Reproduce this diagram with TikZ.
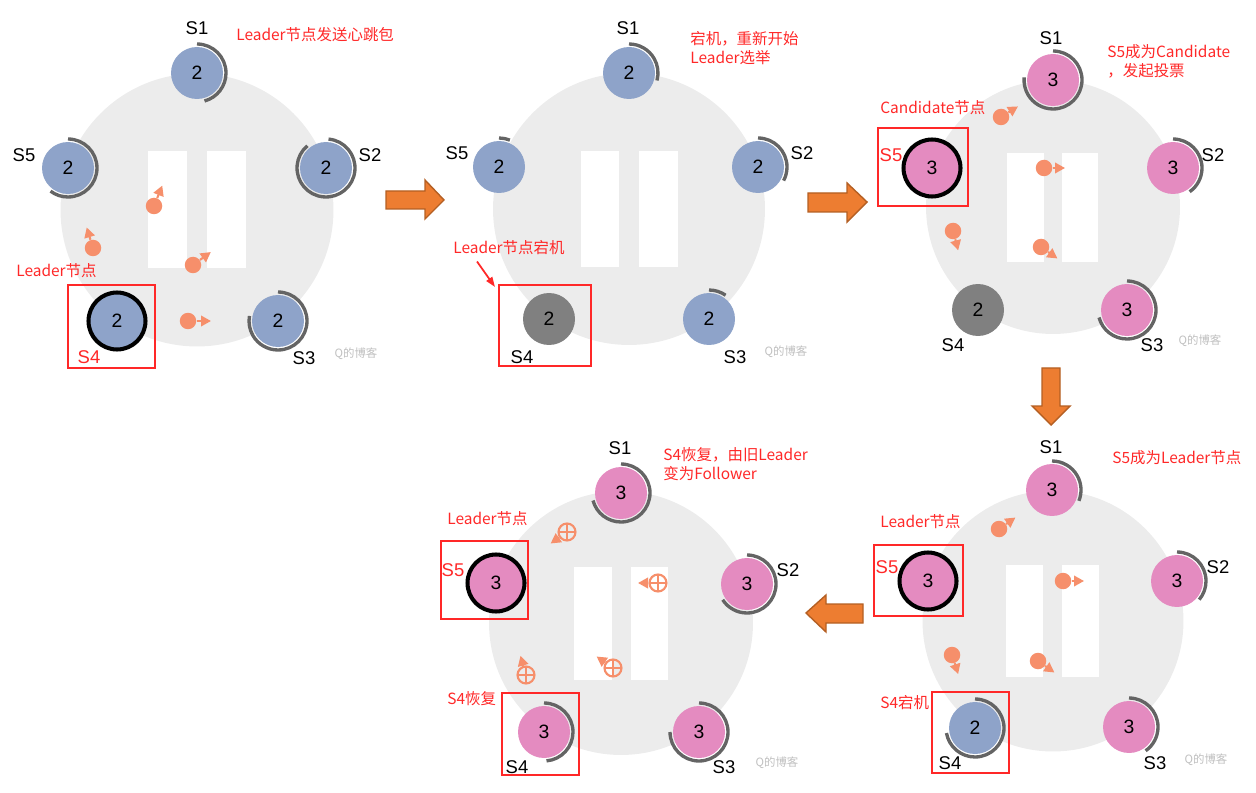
\documentclass[tikz,border=0pt]{standalone}
\usepackage{fontspec}
\setmainfont{Liberation Sans}
\newfontfamily\cjk{Noto Sans CJK SC}
\usetikzlibrary{arrows.meta}

\definecolor{srvblue}{RGB}{142,163,201}
\definecolor{srvpink}{RGB}{228,139,192}
\definecolor{srvdown}{RGB}{128,128,128}
\definecolor{ringgray}{RGB}{100,100,100}
\definecolor{bggray}{RGB}{236,236,236}
\definecolor{msgorange}{RGB}{246,143,107}
\definecolor{bigorange}{RGB}{237,125,49}
\definecolor{bigedge}{RGB}{180,95,35}
\definecolor{notered}{RGB}{255,40,40}

% gray term arc around a server: node, start angle, end angle
\newcommand{\termarc}[3]{%
  \draw[termring] ([shift={(#2:0.58cm)}]#1.center) arc[start angle=#2, end angle=#3, radius=0.58cm];}

\begin{document}
\begin{tikzpicture}[x=0.02cm, y=-0.02cm]
  % styles
  \tikzstyle{server}=[circle, minimum size=1.04cm, inner sep=0pt, font=\fontsize{11pt}{13pt}\selectfont]
  \tikzstyle{leader}=[draw=black, line width=2.3pt, minimum size=1.14cm]
  \tikzstyle{termring}=[draw=ringgray, line width=1.9pt]
  \tikzstyle{slabel}=[inner sep=0pt, font=\fontsize{10.5pt}{12pt}\selectfont]
  \tikzstyle{note}=[inner sep=0pt, anchor=west, align=left, text=notered, font=\cjk\fontsize{8.8pt}{10.8pt}\selectfont]
  \tikzstyle{redbox}=[draw=notered, line width=1pt]
  \tikzstyle{vote}=[circle, fill=msgorange, minimum size=0.33cm, inner sep=0pt]
  \tikzstyle{reply}=[circle, draw=msgorange, line width=1.2pt, minimum size=0.34cm, inner sep=0pt,
    path picture={\draw[msgorange, line width=1.2pt]
      (path picture bounding box.north) -- (path picture bounding box.south)
      (path picture bounding box.west) -- (path picture bounding box.east);}]
  \tikzstyle{msgarrow}=[draw=msgorange, line width=1.2pt, -{Triangle[length=0.2cm,width=0.21cm]}]
  \tikzstyle{bigarrow}=[fill=bigorange, draw=bigedge, line width=0.8pt]
  \tikzstyle{wmark}=[inner sep=0pt, text=black!25, font=\cjk\fontsize{6.5pt}{7pt}\selectfont]

  \useasboundingbox (0,0) rectangle (1256,793);

  % ---------- Panel 1: S4 leader sends heartbeats ----------
  \fill[bggray] (197,210) circle (2.73cm);
  \fill[white] (148,151) rectangle (187,268);
  \fill[white] (207,151) rectangle (246,268);

  \node [server,fill=srvblue] (A1) at (197,73) {2};
  \node [server,fill=srvblue] (A2) at (326,168) {2};
  \node [server,fill=srvblue] (A3) at (278,321) {2};
  \node [server,fill=srvblue,leader] (A4) at (117,321) {2};
  \node [server,fill=srvblue] (A5) at (68,168) {2};
  \termarc{A1}{90}{-75}
  \termarc{A2}{85}{-230}
  \termarc{A3}{90}{-190}
  \termarc{A5}{90}{-127}

  \node [slabel] (A1l) at (197,28) {S1};
  \node [slabel] (A2l) at (370,155) {S2};
  \node [slabel] (A3l) at (304,358) {S3};
  \node [slabel,text=notered] (A4l) at (89,357) {S4};
  \node [slabel] (A5l) at (24,155) {S5};

  % heartbeats
  \node [vote] (Am1) at (154,206) {};
  \node [vote] (Am2) at (93,248) {};
  \node [vote] (Am3) at (193,265) {};
  \node [vote] (Am4) at (188,321) {};
  \draw [msgarrow] (Am1) -- +(68:0.44cm);
  \draw [msgarrow] (Am2) -- +(107:0.43cm);
  \draw [msgarrow] (Am3) -- +(36:0.44cm);
  \draw [msgarrow] (Am4) -- +(0:0.46cm);

  \draw [redbox] (68,285) rectangle (155,368);
  \node [note] (An1) at (236,35) {Leader节点发送心跳包};
  \node [note] (An2) at (16,271) {Leader节点};
  \node [wmark] (Aw) at (356,354) {Q的博客};

  % ---------- Panel 2: leader S4 down ----------
  \fill[bggray] (629,209) circle (2.72cm);
  \fill[white] (581,151) rectangle (619,267);
  \fill[white] (639,151) rectangle (678,267);

  \node [server,fill=srvblue] (B1) at (629,73) {2};
  \node [server,fill=srvblue] (B2) at (758,167) {2};
  \node [server,fill=srvblue] (B3) at (709,319) {2};
  \node [server,fill=srvdown] (B4) at (549,319) {2};
  \node [server,fill=srvblue] (B5) at (499,167) {2};
  \termarc{B1}{90}{-15}
  \termarc{B2}{90}{-28}
  \termarc{B3}{90}{55}
  \termarc{B5}{90}{68}

  \node [slabel] (B1l) at (628,28) {S1};
  \node [slabel] (B2l) at (802,153) {S2};
  \node [slabel] (B3l) at (735,357) {S3};
  \node [slabel] (B4l) at (522,357) {S4};
  \node [slabel] (B5l) at (457,153) {S5};

  \draw [redbox] (499,285) rectangle (591,366);
  \coordinate (B4c) at (495,287);
  \node [note] (Bn1) at (690,48) {宕机，重新开始\\Leader选举};
  \node [note] (Bn2) at (453,248) {Leader节点宕机};
  \draw [notered, line width=1pt, -{Triangle[length=0.2cm,width=0.14cm]}]
    ([xshift=0.48cm,yshift=-0.12cm]Bn2.south west) -- (B4c);
  \node [wmark] (Bw) at (786,352) {Q的博客};

  % ---------- Panel 3: S5 becomes candidate ----------
  \fill[bggray] (1053,207) circle (2.54cm);
  \fill[white] (1007,153) rectangle (1044,262);
  \fill[white] (1062,153) rectangle (1098,262);

  \node [server,fill=srvpink] (C1) at (1053,80) {3};
  \node [server,fill=srvpink] (C2) at (1173,168) {3};
  \node [server,fill=srvpink] (C3) at (1127,310) {3};
  \node [server,fill=srvdown] (C4) at (978,310) {2};
  \node [server,fill=srvpink,leader] (C5) at (932,168) {3};
  \termarc{C1}{90}{-185}
  \termarc{C2}{90}{-55}
  \termarc{C3}{90}{-165}

  \node [slabel] (C1l) at (1051,38) {S1};
  \node [slabel] (C2l) at (1213,155) {S2};
  \node [slabel] (C3l) at (1152,345) {S3};
  \node [slabel] (C4l) at (953,345) {S4};
  \node [slabel,text=notered] (C5l) at (891,155) {S5};

  % vote requests
  \node [vote] (Cm1) at (1001,117) {};
  \node [vote] (Cm2) at (1044,168) {};
  \node [vote] (Cm3) at (953,231) {};
  \node [vote] (Cm4) at (1041,247) {};
  \draw [msgarrow] (Cm1) -- +(32:0.4cm);
  \draw [msgarrow] (Cm2) -- +(0:0.42cm);
  \draw [msgarrow] (Cm3) -- +(-75:0.4cm);
  \draw [msgarrow] (Cm4) -- +(-35:0.4cm);

  \draw [redbox] (878,128) rectangle (968,206);
  \node [note] (Cn1) at (880,108) {Candidate节点};
  \node [note] (Cn2) at (1107,61) {S5成为Candidate\\，发起投票};
  \node [wmark] (Cw) at (1200,341) {Q的博客};

  % ---------- Panel 4: S5 is the new leader ----------
  \fill[bggray] (1053,621) circle (2.61cm);
  \fill[white] (1006,565) rectangle (1043,677);
  \fill[white] (1062,565) rectangle (1099,677);

  \node [server,fill=srvpink] (D1) at (1052,490) {3};
  \node [server,fill=srvpink] (D2) at (1177,581) {3};
  \node [server,fill=srvpink] (D3) at (1129,727) {3};
  \node [server,fill=srvblue] (D4) at (975,728) {2};
  \node [server,fill=srvpink,leader] (D5) at (928,581) {3};
  \termarc{D1}{90}{-22}
  \termarc{D2}{90}{-40}
  \termarc{D3}{90}{-55}
  \termarc{D4}{90}{-170}

  \node [slabel] (D1l) at (1051,447) {S1};
  \node [slabel] (D2l) at (1218,567) {S2};
  \node [slabel] (D3l) at (1155,763) {S3};
  \node [slabel] (D4l) at (950,763) {S4};
  \node [slabel,text=notered] (D5l) at (887,567) {S5};

  % heartbeats from S5
  \node [vote] (Dm1) at (999,529) {};
  \node [vote] (Dm2) at (1063,581) {};
  \node [vote] (Dm3) at (952,655) {};
  \node [vote] (Dm4) at (1038,661) {};
  \draw [msgarrow] (Dm1) -- +(35:0.4cm);
  \draw [msgarrow] (Dm2) -- +(0:0.42cm);
  \draw [msgarrow] (Dm3) -- +(-72:0.4cm);
  \draw [msgarrow] (Dm4) -- +(-35:0.4cm);

  \draw [redbox] (874,545) rectangle (963,616);
  \draw [redbox] (932,692) rectangle (1009,773);
  \node [note] (Dn1) at (880,522) {Leader节点};
  \node [note] (Dn2) at (880,703) {S4宕机};
  \node [note] (Dn3) at (1112,458) {S5成为Leader节点};
  \node [wmark] (Dw) at (1206,760) {Q的博客};

  % ---------- Panel 5: S4 back as follower ----------
  \fill[bggray] (621,623) circle (2.64cm);
  \fill[white] (574,567) rectangle (612,680);
  \fill[white] (631,567) rectangle (668,680);

  \node [server,fill=srvpink] (E1) at (621,493) {3};
  \node [server,fill=srvpink] (E2) at (747,584) {3};
  \node [server,fill=srvpink] (E3) at (699,732) {3};
  \node [server,fill=srvpink] (E4) at (544,732) {3};
  \node [server,fill=srvpink,leader] (E5) at (496,583) {3};
  \termarc{E1}{90}{-165}
  \termarc{E2}{90}{-147}
  \termarc{E3}{90}{-180}
  \termarc{E4}{90}{-85}

  \node [slabel] (E1l) at (620,448) {S1};
  \node [slabel] (E2l) at (788,570) {S2};
  \node [slabel] (E3l) at (724,767) {S3};
  \node [slabel] (E4l) at (517,767) {S4};
  \node [slabel,text=notered] (E5l) at (453,570) {S5};

  % replies to the leader
  \node [reply] (Em1) at (567,532) {};
  \node [reply] (Em2) at (658,583) {};
  \node [reply] (Em3) at (613,668) {};
  \node [reply] (Em4) at (526,675) {};
  \draw [msgarrow] (Em1) -- +(215:0.4cm);
  \draw [msgarrow] (Em2) -- +(180:0.4cm);
  \draw [msgarrow] (Em3) -- +(145:0.4cm);
  \draw [msgarrow] (Em4) -- +(106:0.4cm);

  \draw [redbox] (441,541) rectangle (528,619);
  \draw [redbox] (502,693) rectangle (579,775);
  \node [note] (En1) at (447,519) {Leader节点};
  \node [note] (En2) at (447,699) {S4恢复};
  \node [note] (En3) at (663,464) {S4恢复，由旧Leader\\变为Follower};
  \node [wmark] (Ew) at (777,763) {Q的博客};

  % ---------- block arrows between panels ----------
  \draw [bigarrow] (386,191) -- (425,191) -- (425,180) -- (444,200) -- (425,219) -- (425,209) -- (386,209) -- cycle;
  \draw [bigarrow] (808,193) -- (847,193) -- (847,183) -- (867,202) -- (847,222) -- (847,212) -- (808,212) -- cycle;
  \draw [bigarrow] (1042,368) -- (1042,406) -- (1032,406) -- (1051,425) -- (1070,406) -- (1060,406) -- (1060,368) -- cycle;
  \draw [bigarrow] (863,604) -- (826,604) -- (826,595) -- (806,613) -- (826,632) -- (826,623) -- (863,623) -- cycle;
\end{tikzpicture}
\end{document}
